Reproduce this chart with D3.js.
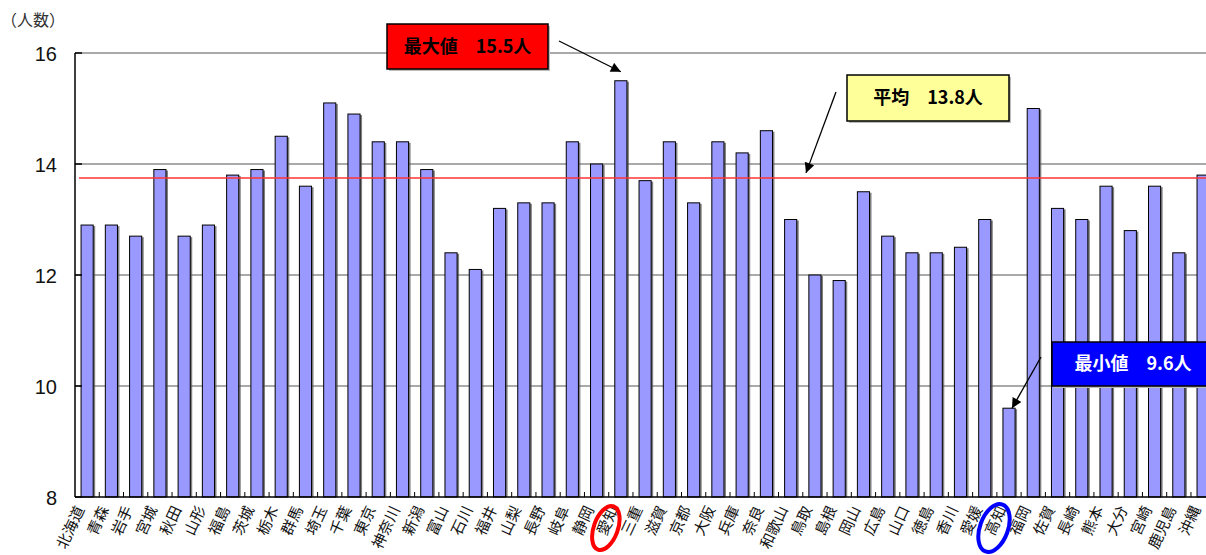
<!DOCTYPE html>
<html>
<head>
<meta charset="utf-8">
<script src="https://cdn.jsdelivr.net/npm/d3@7"></script>
<style>
  body { margin: 0; background: #fff; }
  svg { display: block; }
</style>
</head>
<body>
<div id="chart"></div>
<script>
// 都道府県
const prefectures = ["北海道","青森","岩手","宮城","秋田","山形","福島","茨城","栃木","群馬",
  "埼玉","千葉","東京","神奈川","新潟","富山","石川","福井","山梨","長野",
  "岐阜","静岡","愛知","三重","滋賀","京都","大阪","兵庫","奈良","和歌山",
  "鳥取","島根","岡山","広島","山口","徳島","香川","愛媛","高知","福岡",
  "佐賀","長崎","熊本","大分","宮崎","鹿児島","沖縄"];
// 人数
const counts = [12.9,12.9,12.7,13.9,12.7,12.9,13.8,13.9,14.5,13.6,
  15.1,14.9,14.4,14.4,13.9,12.4,12.1,13.2,13.3,13.3,
  14.4,14.0,15.5,13.7,14.4,13.3,14.4,14.2,14.6,13.0,
  12.0,11.9,13.5,12.7,12.4,12.4,12.5,13.0,9.6,15.0,
  13.2,13.0,13.6,12.8,13.6,12.4,13.8];
const yTicks = [8, 10, 12, 14, 16];
const average = 13.75;
const maxName = "愛知", maxText = "最大値　15.5人";
const minName = "高知", minText = "最小値　9.6人";
const avgText = "平均　13.8人";

const width = 1206, height = 555;
const plotLeft = 75, plotTop = 53, plotBottom = 497;
const step = 24.26;

const svg = d3.select("#chart").append("svg")
    .attr("width", width)
    .attr("height", height);

const defs = svg.append("defs");
defs.append("marker")
    .attr("id", "arrow")
    .attr("viewBox", "0 0 10 10")
    .attr("refX", 10).attr("refY", 5)
    .attr("markerWidth", 11).attr("markerHeight", 10)
    .attr("markerUnits", "userSpaceOnUse")
    .attr("orient", "auto")
  .append("path")
    .attr("d", "M0,0 L10,5 L0,10 Z")
    .attr("fill", "#000");

const x = d3.scaleBand()
    .domain(prefectures)
    .range([plotLeft, plotLeft + prefectures.length * step])
    .paddingInner(0.5)
    .paddingOuter(0.25);

const y = d3.scaleLinear()
    .domain([8, 16])
    .range([plotBottom, plotTop]);

// grid lines
svg.append("g").selectAll("line")
  .data(yTicks.filter(d => d > 8))
  .join("line")
    .attr("x1", plotLeft).attr("x2", width)
    .attr("y1", d => y(d)).attr("y2", d => y(d))
    .style("stroke", "#555")
    .style("stroke-width", 1);

// y labels
svg.append("g").selectAll("text")
  .data(yTicks)
  .join("text")
    .attr("x", 57)
    .attr("y", d => y(d) + 8)
    .attr("text-anchor", "end")
    .style("font-family", "Liberation Sans, Arial, sans-serif")
    .style("font-size", "20px")
    .style("fill", "#111")
    .text(d => d);

svg.append("text")
    .attr("x", 1).attr("y", 26)
    .style("font-family", "Noto Sans CJK JP")
    .style("font-size", "16px")
    .style("fill", "#333")
    .text("（人数）");

// bars with shadow
const bars = svg.append("g");
bars.selectAll("rect.shadow")
  .data(counts)
  .join("rect")
    .attr("class", "shadow")
    .attr("x", (d, i) => x(prefectures[i]) + 2)
    .attr("y", d => y(d) + 1)
    .attr("width", x.bandwidth())
    .attr("height", d => plotBottom - y(d) - 1)
    .style("fill", "#555")
    .style("opacity", 0.75);
bars.selectAll("rect.bar")
  .data(counts)
  .join("rect")
    .attr("class", "bar")
    .attr("x", (d, i) => x(prefectures[i]))
    .attr("y", d => y(d))
    .attr("width", x.bandwidth())
    .attr("height", d => plotBottom - y(d))
    .style("fill", "#9999ff")
    .style("stroke", "#000")
    .style("stroke-width", 1);

// average line
svg.append("line")
    .attr("x1", plotLeft + 4).attr("x2", width)
    .attr("y1", y(average)).attr("y2", y(average))
    .style("stroke", "#ff3333")
    .style("stroke-width", 1.5);

// axes
svg.append("line")
    .attr("x1", plotLeft).attr("x2", width)
    .attr("y1", plotBottom).attr("y2", plotBottom)
    .style("stroke", "#000").style("stroke-width", 1.5);
svg.append("line")
    .attr("x1", plotLeft).attr("x2", plotLeft)
    .attr("y1", plotTop).attr("y2", plotBottom)
    .style("stroke", "#000").style("stroke-width", 1.5);
svg.append("g").selectAll("line")
  .data(yTicks)
  .join("line")
    .attr("x1", plotLeft).attr("x2", plotLeft + 7)
    .attr("y1", d => y(d)).attr("y2", d => y(d))
    .style("stroke", "#000").style("stroke-width", 1.5);
svg.append("g").selectAll("line")
  .data(prefectures.slice(1))
  .join("line")
    .attr("x1", d => x(d) - x.step() * 0.25)
    .attr("x2", d => x(d) - x.step() * 0.25)
    .attr("y1", plotBottom).attr("y2", plotBottom - 5)
    .style("stroke", "#000").style("stroke-width", 1);

// category labels
svg.append("g").selectAll("text")
  .data(prefectures)
  .join("text")
    .attr("transform", d => `translate(${x(d) + x.bandwidth() / 2 - 7},${plotBottom + 10}) rotate(-65)`)
    .attr("text-anchor", "end")
    .attr("dy", "0.35em")
    .style("font-family", "Noto Sans CJK JP")
    .style("font-size", "15px")
    .style("fill", "#111")
    .text(d => d);

// highlight ellipses
function ring(name, color, a, b) {
  const cx = x(name) + x.bandwidth() / 2 - 15;
  svg.append("ellipse")
    .attr("transform", `translate(${cx},${plotBottom + 31}) rotate(-70)`)
    .attr("rx", a).attr("ry", b)
    .style("fill", "none")
    .style("stroke", color)
    .style("stroke-width", 4);
}
ring(maxName, "#ff0000", 23, 12);
ring(minName, "#0000ff", 25, 14);

// callouts
function callout(x0, y0, w, h, fill, color, text) {
  const g = svg.append("g");
  g.append("rect")
    .attr("x", x0 + 2).attr("y", y0 + 2)
    .attr("width", w).attr("height", h)
    .style("fill", "#bbb");
  g.append("rect")
    .attr("x", x0).attr("y", y0)
    .attr("width", w).attr("height", h)
    .style("fill", fill)
    .style("stroke", "#000")
    .style("stroke-width", 1.5);
  g.append("text")
    .attr("x", x0 + w / 2).attr("y", y0 + h / 2)
    .attr("text-anchor", "middle")
    .attr("dy", "0.36em")
    .style("font-family", "Noto Sans CJK JP")
    .style("font-weight", "bold")
    .style("font-size", "18px")
    .style("fill", color)
    .text(text);
}
function arrow(x1, y1, x2, y2) {
  svg.append("line")
    .attr("x1", x1).attr("y1", y1)
    .attr("x2", x2).attr("y2", y2)
    .style("stroke", "#000")
    .style("stroke-width", 1.3)
    .attr("marker-end", "url(#arrow)");
}

const maxX = x(maxName) + x.bandwidth() / 2;
const minX = x(minName) + x.bandwidth() / 2;

callout(387, 24, 161, 45, "#ff0000", "#000", maxText);
arrow(559, 41, maxX, y(d3.max(counts)) - 9);

callout(847, 75, 162, 46, "#ffff99", "#000", avgText);
arrow(836, 92, 806, y(average) - 5);

callout(1052, 342, 162, 44, "#0000ff", "#fff", minText);
arrow(1041, 357, minX + 3, y(d3.min(counts)));
</script>
</body>
</html>
